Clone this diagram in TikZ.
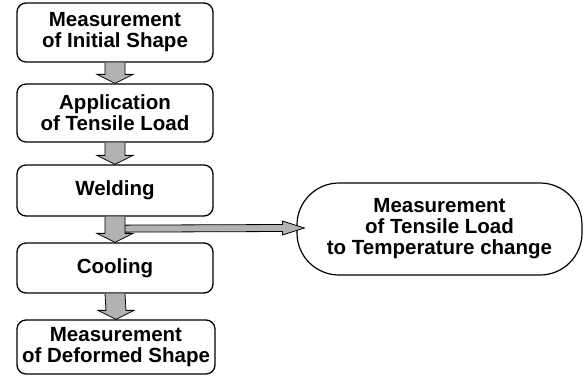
\documentclass[tikz,border=0pt]{standalone}
\usepackage{fontspec}
\setmainfont{Liberation Sans}
\usetikzlibrary{calc}
\begin{document}
\begin{tikzpicture}[x=1pt,y=-1pt,
  txt/.style={align=center,font=\fontsize{20.5}{21}\selectfont\bfseries,inner sep=0pt},
  stepbox/.style={txt,draw,line width=1.3pt,rounded corners=9pt,minimum width=196pt},
  fatarrow/.style={draw,line width=0.8pt,fill=gray!60}]
\useasboundingbox (0,0) rectangle (586,376);
\node[stepbox,minimum height=59pt] (b1) at (115,32.5) {Measurement\\of Initial Shape};
\node[stepbox,minimum height=58pt] (b2) at (115,113) {Application\\of Tensile Load};
\node[stepbox,minimum height=51pt] (b3) at (115,190.5) {Welding};
\node[stepbox,minimum height=50pt] (b4) at (115,268) {Cooling};
\node[stepbox,minimum height=54pt,minimum width=198pt] (b5) at (116,347) {Measurement\\of Deformed Shape};
\node[txt,draw,line width=1.2pt,rounded corners=42pt,minimum width=285pt,minimum height=92pt] (e) at (439.5,229) {Measurement\\of Tensile Load\\to Temperature change};
% horizontal arrow
\coordinate (hs) at ($(b3.south)+(0,12)$);
\coordinate (ht) at ($(e.west)+(8,-1)$);
\draw[fatarrow] ($(hs)+(0,-3.5)$) -- ($(ht)+(-22,-3.5)$) -- ($(ht)+(-22,-7)$) -- (ht) -- ($(ht)+(-22,7)$) -- ($(ht)+(-22,3.5)$) -- ($(hs)+(0,3.5)$);
% down arrows
\foreach \a/\b in {b1/b2,b2/b3,b3/b4,b4/b5}{
  \draw[fatarrow] ($(\a.south)+(-10,0)$) -- ($(\b.north)+(-10,-9)$) -- ($(\b.north)+(-18,-9)$) -- (\b.north) -- ($(\b.north)+(18,-9)$) -- ($(\b.north)+(10,-9)$) -- ($(\a.south)+(10,0)$);
}
\end{tikzpicture}
\end{document}
